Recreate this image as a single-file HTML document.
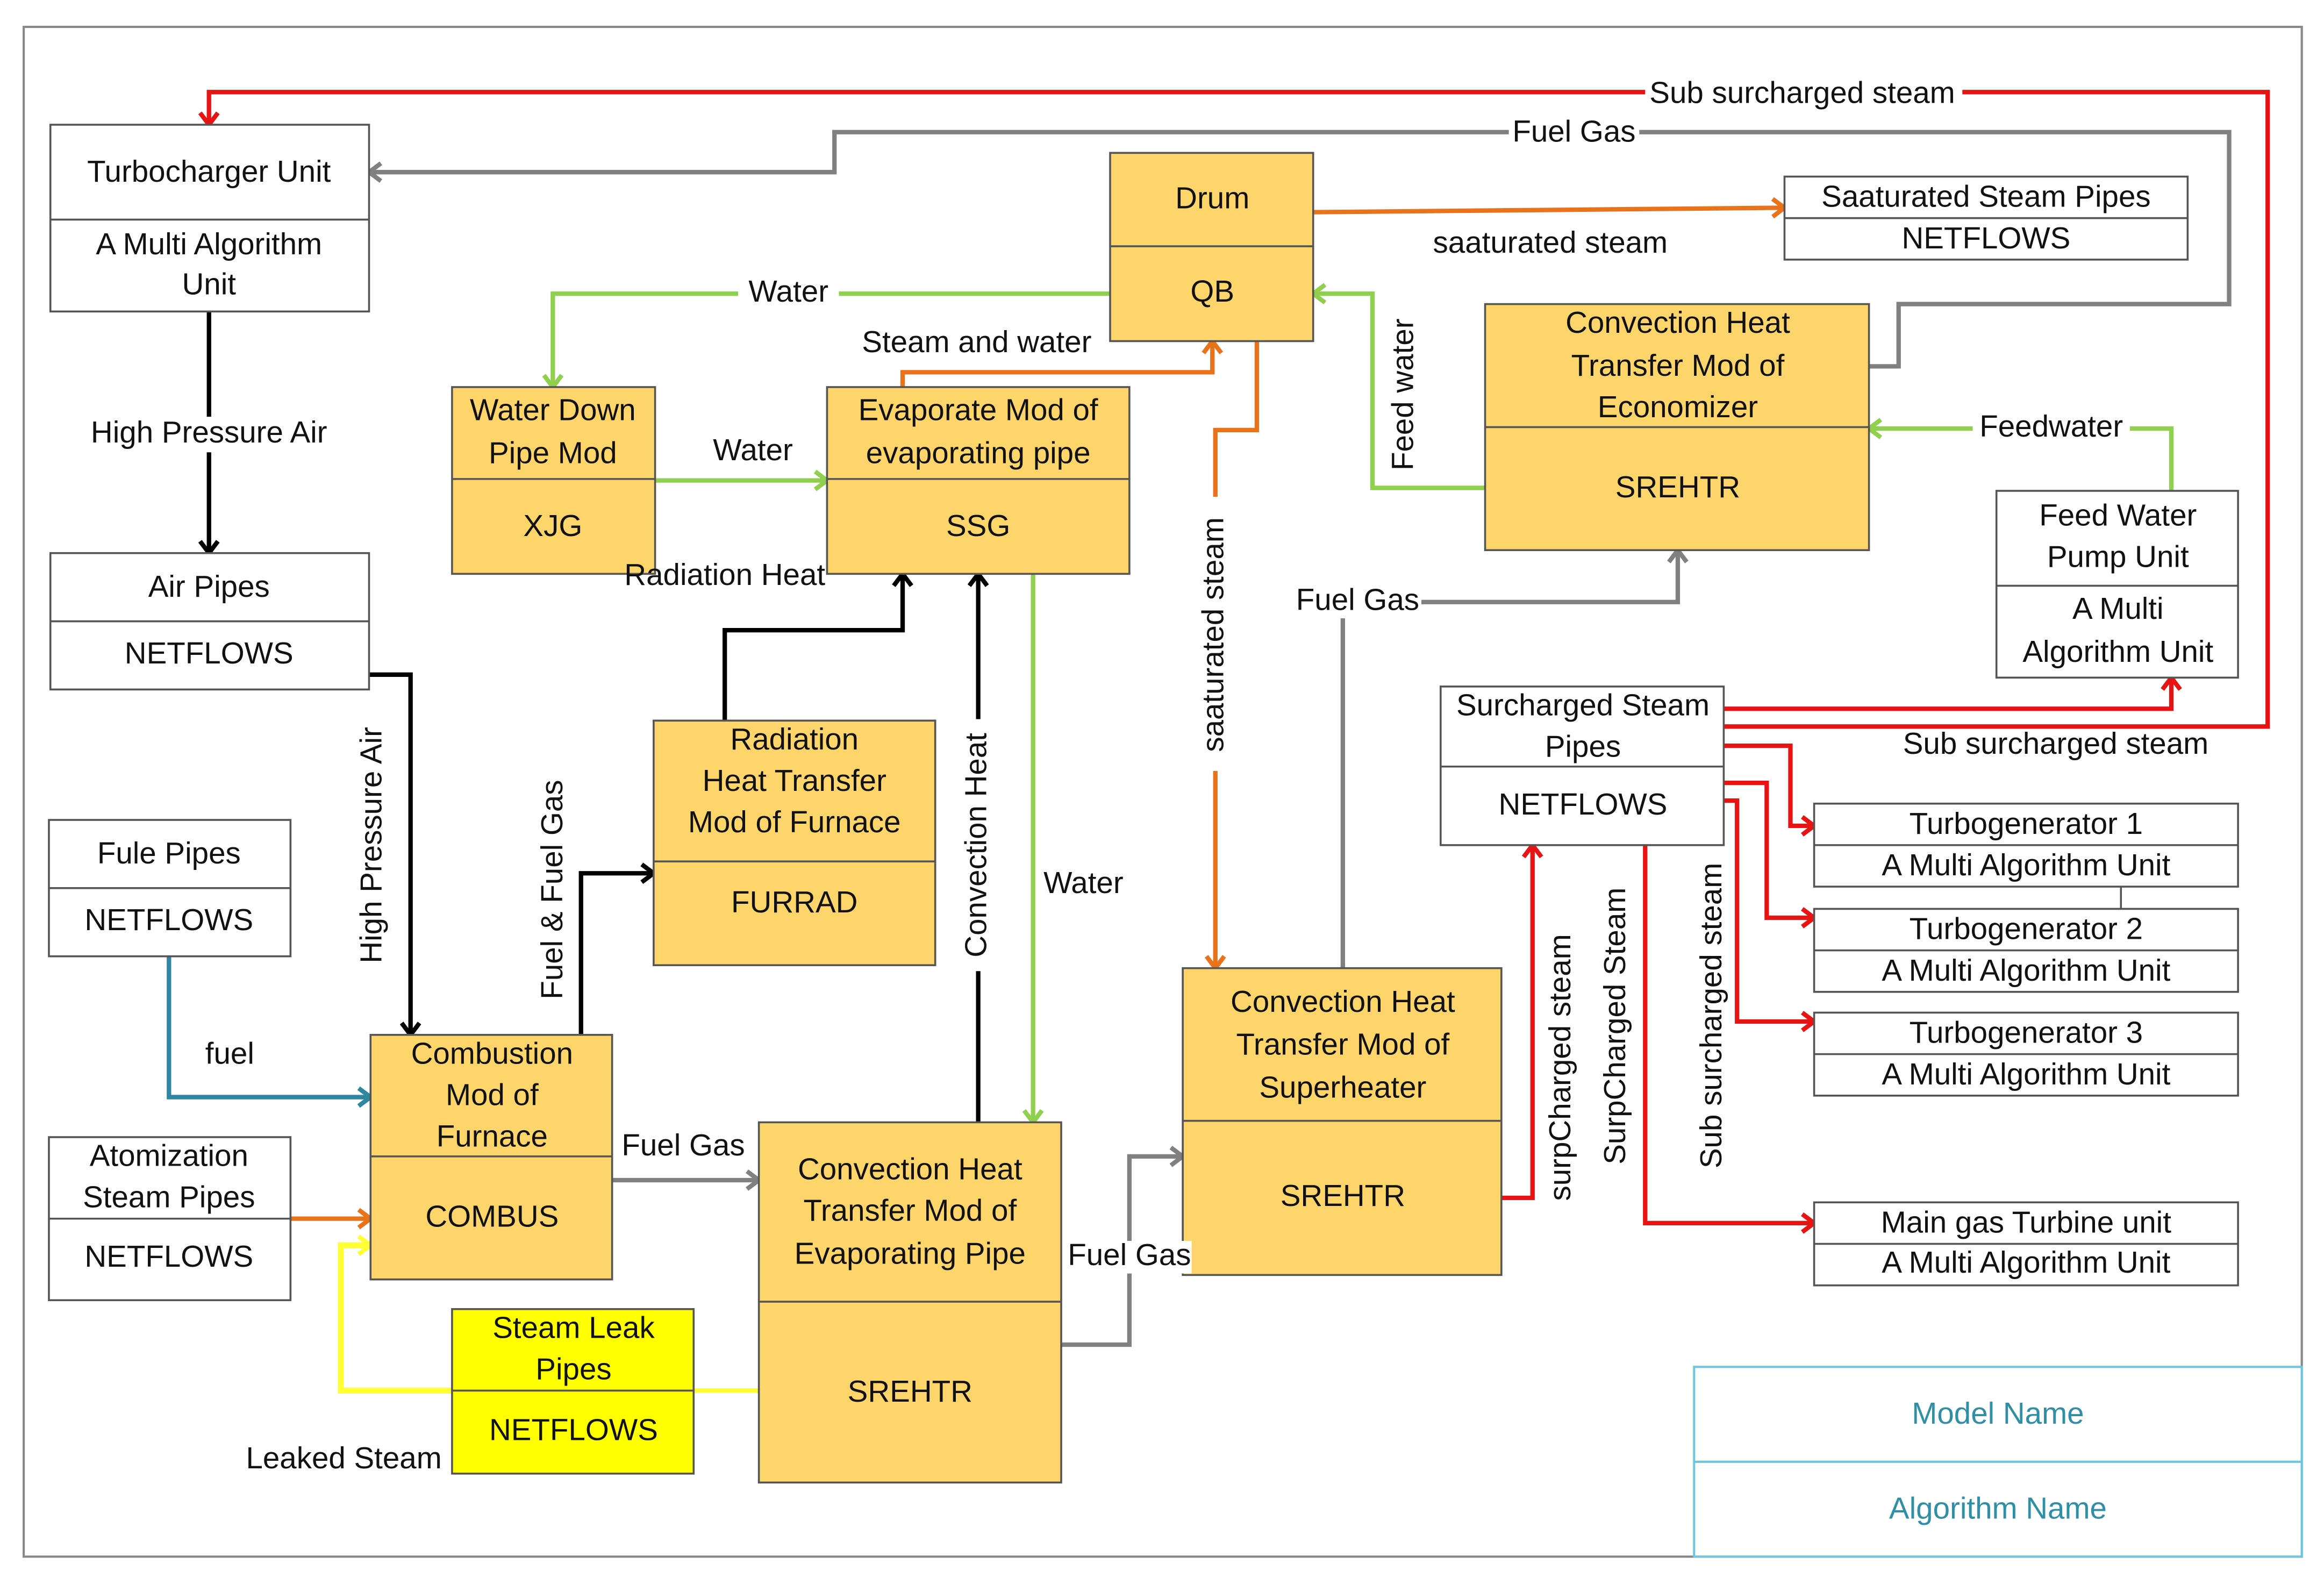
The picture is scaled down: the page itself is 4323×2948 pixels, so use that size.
<!DOCTYPE html>
<html><head><meta charset="utf-8"><style>
html,body{margin:0;padding:0;background:#fff}
svg{display:block}
text{font-family:"Liberation Sans",sans-serif;font-size:20.5px;fill:#111;text-anchor:middle;dominant-baseline:middle}
</style></head><body>
<svg width="4323" height="2948" viewBox="0 0 1568 1069" xmlns="http://www.w3.org/2000/svg">
<defs>
<marker id="aR" markerUnits="userSpaceOnUse" markerWidth="16" markerHeight="16" refX="11" refY="8" orient="auto"><path d="M3,2 L11,8 L3,14" fill="none" stroke="#e81313" stroke-width="3"/></marker>
<marker id="aG" markerUnits="userSpaceOnUse" markerWidth="16" markerHeight="16" refX="11" refY="8" orient="auto"><path d="M3,2 L11,8 L3,14" fill="none" stroke="#808080" stroke-width="3"/></marker>
<marker id="aO" markerUnits="userSpaceOnUse" markerWidth="16" markerHeight="16" refX="11" refY="8" orient="auto"><path d="M3,2 L11,8 L3,14" fill="none" stroke="#e8731a" stroke-width="3"/></marker>
<marker id="aL" markerUnits="userSpaceOnUse" markerWidth="16" markerHeight="16" refX="11" refY="8" orient="auto"><path d="M3,2 L11,8 L3,14" fill="none" stroke="#8fd14f" stroke-width="3"/></marker>
<marker id="aK" markerUnits="userSpaceOnUse" markerWidth="16" markerHeight="16" refX="11" refY="8" orient="auto"><path d="M3,2 L11,8 L3,14" fill="none" stroke="#000" stroke-width="3"/></marker>
<marker id="aT" markerUnits="userSpaceOnUse" markerWidth="16" markerHeight="16" refX="11" refY="8" orient="auto"><path d="M3,2 L11,8 L3,14" fill="none" stroke="#2e86a0" stroke-width="3"/></marker>
<marker id="aY" markerUnits="userSpaceOnUse" markerWidth="16" markerHeight="16" refX="11" refY="8" orient="auto"><path d="M3,2 L11,8 L3,14" fill="none" stroke="#ffff33" stroke-width="3"/></marker>
</defs>
<rect x="16" y="18" width="1537" height="1032" fill="#fff" stroke="#888" stroke-width="1.5"/>

<g fill="none" stroke-width="3">
<path d="M1163,490 H1530 V62 H141 V84" stroke="#e81313" marker-end="url(#aR)"/>
<path d="M1163,478 H1465 V457" stroke="#e81313" marker-end="url(#aR)"/>
<path d="M1163,503 H1208 V557 H1224" stroke="#e81313" marker-end="url(#aR)"/>
<path d="M1163,528 H1192 V619 H1224" stroke="#e81313" marker-end="url(#aR)"/>
<path d="M1163,540 H1172 V689 H1224" stroke="#e81313" marker-end="url(#aR)"/>
<path d="M1013,808 H1034 V570" stroke="#e81313" marker-end="url(#aR)"/>
<path d="M1110,570 V825 H1224" stroke="#e81313" marker-end="url(#aR)"/>

<path d="M1261,247 H1281 V205 H1504 V89 H563 V116 H249" stroke="#808080" marker-end="url(#aG)"/>
<path d="M906,653 V406 H1132 V371" stroke="#808080" marker-end="url(#aG)"/>
<path d="M413,796 H512" stroke="#808080" marker-end="url(#aG)"/>
<path d="M716,907 H762 V780 H798" stroke="#808080" marker-end="url(#aG)"/>

<path d="M886,143 L1204,140" stroke="#e8731a" marker-end="url(#aO)"/>
<path d="M609,261 V251 H818 V230" stroke="#e8731a" marker-end="url(#aO)"/>
<path d="M848,230 V290 H820 V653" stroke="#e8731a" marker-end="url(#aO)"/>
<path d="M196,822 H250" stroke="#e8731a" marker-end="url(#aO)"/>

<path d="M749,198 H373 V261" stroke="#8fd14f" marker-end="url(#aL)"/>
<path d="M442,324 H558" stroke="#8fd14f" marker-end="url(#aL)"/>
<path d="M697,387 V757" stroke="#8fd14f" marker-end="url(#aL)"/>
<path d="M1002,329 H926 V198 H886" stroke="#8fd14f" marker-end="url(#aL)"/>
<path d="M1465,331 V289 H1261" stroke="#8fd14f" marker-end="url(#aL)"/>

<path d="M141,210 V373" stroke="#000" marker-end="url(#aK)"/>
<path d="M249,455 H277 V698" stroke="#000" marker-end="url(#aK)"/>
<path d="M392,698 V589 H441" stroke="#000" marker-end="url(#aK)"/>
<path d="M489,486 V425 H609 V387" stroke="#000" marker-end="url(#aK)"/>
<path d="M660,757 V387" stroke="#000" marker-end="url(#aK)"/>

<path d="M114,645 V740 H250" stroke="#2e86a0" marker-end="url(#aT)"/>
<path d="M305,938 H230 V840 H250" stroke="#ffff33" stroke-width="4" marker-end="url(#aY)"/>
<path d="M468,938 H512" stroke="#ffff33" stroke-width="3"/>
</g>

<g stroke="#555" stroke-width="1.3">
<rect x="34" y="84" width="215" height="126" fill="#fff"/><line x1="34" y1="148" x2="249" y2="148"/>
<rect x="34" y="373" width="215" height="92" fill="#fff"/><line x1="34" y1="419" x2="249" y2="419"/>
<rect x="33" y="553" width="163" height="92" fill="#fff"/><line x1="33" y1="599" x2="196" y2="599"/>
<rect x="33" y="767" width="163" height="110" fill="#fff"/><line x1="33" y1="822" x2="196" y2="822"/>
<rect x="250" y="698" width="163" height="165" fill="#fdd56b"/><line x1="250" y1="780" x2="413" y2="780"/>
<rect x="305" y="883" width="163" height="111" fill="#ffff00"/><line x1="305" y1="938" x2="468" y2="938"/>
<rect x="305" y="261" width="137" height="126" fill="#fdd56b"/><line x1="305" y1="323" x2="442" y2="323"/>
<rect x="558" y="261" width="204" height="126" fill="#fdd56b"/><line x1="558" y1="323" x2="762" y2="323"/>
<rect x="749" y="103" width="137" height="127" fill="#fdd56b"/><line x1="749" y1="166" x2="886" y2="166"/>
<rect x="441" y="486" width="190" height="165" fill="#fdd56b"/><line x1="441" y1="581" x2="631" y2="581"/>
<rect x="512" y="757" width="204" height="243" fill="#fdd56b"/><line x1="512" y1="878" x2="716" y2="878"/>
<rect x="798" y="653" width="215" height="207" fill="#fdd56b"/><line x1="798" y1="756" x2="1013" y2="756"/>
<rect x="1002" y="205" width="259" height="166" fill="#fdd56b"/><line x1="1002" y1="288" x2="1261" y2="288"/>
<rect x="1204" y="119" width="272" height="56" fill="#fff"/><line x1="1204" y1="147" x2="1476" y2="147"/>
<rect x="1347" y="331" width="163" height="126" fill="#fff"/><line x1="1347" y1="395" x2="1510" y2="395"/>
<rect x="972" y="463" width="191" height="107" fill="#fff"/><line x1="972" y1="517" x2="1163" y2="517"/>
<rect x="1224" y="542" width="286" height="56" fill="#fff"/><line x1="1224" y1="570" x2="1510" y2="570"/>
<rect x="1224" y="613" width="286" height="56" fill="#fff"/><line x1="1224" y1="641" x2="1510" y2="641"/>
<rect x="1224" y="683" width="286" height="56" fill="#fff"/><line x1="1224" y1="711" x2="1510" y2="711"/>
<rect x="1224" y="811" width="286" height="56" fill="#fff"/><line x1="1224" y1="839" x2="1510" y2="839"/>
<line x1="1431" y1="598" x2="1431" y2="613"/>
</g>
<rect x="1143" y="922" width="410" height="128" fill="#fff" stroke="#6cc6e0" stroke-width="1.5"/>
<line x1="1143" y1="986" x2="1553" y2="986" stroke="#6cc6e0" stroke-width="1.5"/>

<text x="141" y="117">Turbocharger Unit</text>
<text x="141" y="166">A Multi Algorithm</text><text x="141" y="193">Unit</text>
<text x="141" y="397">Air Pipes</text><text x="141" y="442">NETFLOWS</text>
<text x="114" y="577">Fule Pipes</text><text x="114" y="622">NETFLOWS</text>
<text x="114" y="781">Atomization</text><text x="114" y="809">Steam Pipes</text><text x="114" y="849">NETFLOWS</text>
<text x="332" y="712">Combustion</text><text x="332" y="740">Mod of</text><text x="332" y="768">Furnace</text><text x="332" y="822">COMBUS</text>
<text x="387" y="897">Steam Leak</text><text x="387" y="925">Pipes</text><text x="387" y="966">NETFLOWS</text>
<text x="373" y="278">Water Down</text><text x="373" y="307">Pipe Mod</text><text x="373" y="356">XJG</text>
<text x="660" y="278">Evaporate Mod of</text><text x="660" y="307">evaporating pipe</text><text x="660" y="356">SSG</text>
<text x="818" y="135">Drum</text><text x="818" y="198">QB</text>
<text x="536" y="500">Radiation</text><text x="536" y="528">Heat Transfer</text><text x="536" y="556">Mod of Furnace</text><text x="536" y="610">FURRAD</text>
<text x="614" y="790">Convection Heat</text><text x="614" y="818">Transfer Mod of</text><text x="614" y="847">Evaporating Pipe</text><text x="614" y="940">SREHTR</text>
<text x="906" y="677">Convection Heat</text><text x="906" y="706">Transfer Mod of</text><text x="906" y="735">Superheater</text><text x="906" y="808">SREHTR</text>
<text x="1132" y="219">Convection Heat</text><text x="1132" y="248">Transfer Mod of</text><text x="1132" y="276">Economizer</text><text x="1132" y="330">SREHTR</text>
<text x="1340" y="134">Saaturated Steam Pipes</text><text x="1340" y="162">NETFLOWS</text>
<text x="1429" y="349">Feed Water</text><text x="1429" y="377">Pump Unit</text><text x="1429" y="412">A Multi</text><text x="1429" y="441">Algorithm Unit</text>
<text x="1068" y="477">Surcharged Steam</text><text x="1068" y="505">Pipes</text><text x="1068" y="544">NETFLOWS</text>
<text x="1367" y="557">Turbogenerator 1</text><text x="1367" y="585">A Multi Algorithm Unit</text>
<text x="1367" y="628">Turbogenerator 2</text><text x="1367" y="656">A Multi Algorithm Unit</text>
<text x="1367" y="698">Turbogenerator 3</text><text x="1367" y="726">A Multi Algorithm Unit</text>
<text x="1367" y="826">Main gas Turbine unit</text><text x="1367" y="853">A Multi Algorithm Unit</text>
<text x="1348" y="955" style="fill:#2e8fa6">Model Name</text>
<text x="1348" y="1019" style="fill:#2e8fa6">Algorithm Name</text>

<g>
<rect x="1110" y="52" width="214" height="22" fill="#fff"/><text x="1216" y="64">Sub surcharged steam</text>
<rect x="1018" y="79" width="88" height="22" fill="#fff"/><text x="1062" y="90">Fuel Gas</text>
<text x="1046" y="165">saaturated steam</text>
<rect x="498" y="187" width="68" height="22" fill="#fff"/><text x="532" y="198">Water</text>
<text x="659" y="232">Steam and water</text>
<text x="508" y="305">Water</text>
<text x="489" y="389">Radiation Heat</text>
<rect x="52" y="281" width="178" height="24" fill="#fff"/><text x="141" y="293">High Pressure Air</text>
<rect x="1331" y="278" width="106" height="22" fill="#fff"/><text x="1384" y="289">Feedwater</text>
<rect x="873" y="395" width="86" height="22" fill="#fff"/><text x="916" y="406">Fuel Gas</text>
<text x="1387" y="503">Sub surcharged steam</text>
<text x="731" y="597">Water</text>
<text x="155" y="712">fuel</text>
<text x="461" y="774">Fuel Gas</text>
<rect x="720" y="837" width="84" height="22" fill="#fff"/><text x="762" y="848">Fuel Gas</text>
<text x="232" y="985">Leaked Steam</text>
<rect x="937" y="206" width="22" height="120" fill="#fff"/><text transform="translate(948,266) rotate(-90)">Feed water</text>
<rect x="808" y="335" width="24" height="185" fill="#fff"/><text transform="translate(820,428) rotate(-90)">saaturated steam</text>
<rect x="241" y="480" width="22" height="182" fill="#fff"/><text transform="translate(252,570) rotate(-90)">High Pressure Air</text>
<text transform="translate(374,600) rotate(-90)">Fuel &amp; Fuel Gas</text>
<rect x="649" y="485" width="22" height="170" fill="#fff"/><text transform="translate(660,570) rotate(-90)">Convection Heat</text>
<text transform="translate(1054,720) rotate(-90)">surpCharged steam</text>
<text transform="translate(1091,692) rotate(-90)">SurpCharged Steam</text>
<text transform="translate(1156,685) rotate(-90)">Sub surcharged steam</text>
</g>
</svg>
</body></html>
